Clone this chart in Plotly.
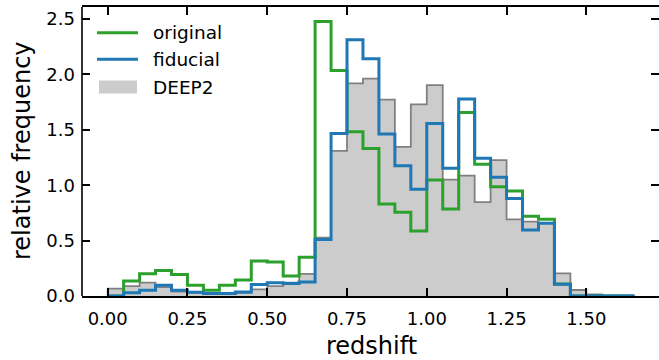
import plotly.graph_objects as go

# Histogram bins (redshift), width 0.05 from 0.00 to 1.65
bin_edges = [round(0.05 * i, 2) for i in range(34)]

# Relative frequency per bin
original = [0.0, 0.135, 0.20, 0.23, 0.195, 0.098, 0.052, 0.098, 0.145, 0.316,
            0.307, 0.18, 0.35, 2.478, 2.035, 1.483, 1.33, 0.83, 0.755, 0.587,
            1.047, 0.785, 1.655, 1.19, 0.987, 0.948, 0.72, 0.693, 0.108, 0.0,
            0.0, 0.0, 0.0]
fiducial = [0.0, 0.03, 0.052, 0.098, 0.052, 0.034, 0.022, 0.022, 0.036, 0.103,
            0.12, 0.112, 0.126, 0.51, 1.466, 2.313, 2.141, 1.462, 1.176, 0.963,
            1.556, 1.152, 1.777, 1.243, 1.071, 0.88, 0.596, 0.656, 0.106, 0.0,
            0.0, 0.0, 0.0]
deep2 = [0.066, 0.09, 0.12, 0.08, 0.04, 0.03, 0.017, 0.017, 0.028, 0.06,
         0.09, 0.12, 0.2, 0.526, 1.31, 1.918, 1.961, 1.772, 1.345, 1.73,
         1.903, 1.05, 1.086, 0.847, 1.226, 0.692, 0.671, 0.66, 0.205, 0.054,
         0.015, 0.005, 0.003]

x_ticks = [0.0, 0.25, 0.5, 0.75, 1.0, 1.25, 1.5]
y_ticks = [0.0, 0.5, 1.0, 1.5, 2.0, 2.5]

series_names = ["original", "fiducial", "DEEP2"]
GREEN = "#2ca02c"
BLUE = "#1f77b4"
FILL = "#cccccc"
EDGE = "#808080"
FONT = "DejaVu Sans"

W, H = 659, 360
L, R, T, B = 82, 0, 7, 64
PW, PH = W - L - R, H - T - B


def step_xy(edges, vals):
    """Outline of a step histogram, starting and ending on the baseline."""
    xs, ys = [edges[0]], [0.0]
    for i, v in enumerate(vals):
        xs += [edges[i], edges[i + 1]]
        ys += [v, v]
    xs.append(edges[-1])
    ys.append(0.0)
    return xs, ys


def px(p):
    return (p - L) / PW


def py(p):
    return (H - B - p) / PH


fig = go.Figure()

gx, gy = step_xy(bin_edges, deep2)
fig.add_trace(go.Scatter(x=gx, y=gy, mode="lines", fill="tozeroy",
                         fillcolor=FILL, line=dict(color=EDGE, width=1.8),
                         name=series_names[2], showlegend=False, hoverinfo="skip"))

ox, oy = step_xy(bin_edges, original)
fig.add_trace(go.Scatter(x=ox, y=oy, mode="lines",
                         line=dict(color=GREEN, width=3),
                         name=series_names[0], showlegend=False))

fx, fy = step_xy(bin_edges, fiducial)
fig.add_trace(go.Scatter(x=fx, y=fy, mode="lines",
                         line=dict(color=BLUE, width=3),
                         name=series_names[1], showlegend=False))

tick_font = dict(family=FONT, size=18, color="black")

fig.update_layout(
    width=W, height=H,
    margin=dict(l=L, r=R, t=T, b=B, pad=0),
    paper_bgcolor="white", plot_bgcolor="white",
    font=dict(family=FONT, color="black"),
    showlegend=False,
    xaxis=dict(range=[-0.0805, 1.7277], tickvals=x_ticks, tickformat=".2f",
               ticks="inside", ticklen=8, tickwidth=1.5, tickcolor="black",
               showline=True, linecolor="black", linewidth=1.6, mirror="ticks",
               showgrid=False, zeroline=False, tickfont=tick_font,
               ticklabelstandoff=6),
    yaxis=dict(range=[0, 2.608], tickvals=y_ticks, tickformat=".1f",
               ticks="inside", ticklen=8, tickwidth=1.5, tickcolor="black",
               showline=False, mirror="ticks",
               showgrid=False, zeroline=False, tickfont=tick_font,
               ticklabelstandoff=6),
)

# left spine
fig.add_shape(type="line", xref="paper", yref="paper", x0=0, x1=0, y0=0, y1=1,
              line=dict(color="black", width=1.6), layer="above")

# axis titles
fig.add_annotation(text="redshift", xref="paper", yref="paper",
                   x=px(371), y=py(346), showarrow=False,
                   font=dict(family=FONT, size=24, color="black"),
                   xanchor="center", yanchor="middle")
fig.add_annotation(text="relative frequency", xref="paper", yref="paper",
                   x=px(22), y=py(151), showarrow=False, textangle=-90,
                   font=dict(family=FONT, size=24, color="black"),
                   xanchor="center", yanchor="middle")

# legend
legend_rows = [(32.7, GREEN, "line"), (59.3, BLUE, "line"), (87.0, FILL, "patch")]
for (yy, col, kind), label in zip(legend_rows, series_names):
    if kind == "line":
        fig.add_shape(type="line", xref="paper", yref="paper",
                      x0=px(97), x1=px(138), y0=py(yy), y1=py(yy),
                      line=dict(color=col, width=3))
    else:
        fig.add_shape(type="rect", xref="paper", yref="paper",
                      x0=px(99), x1=px(137), y0=py(yy - 6.5), y1=py(yy + 6.5),
                      fillcolor=col, line=dict(width=0))
    fig.add_annotation(text=label, xref="paper", yref="paper",
                       x=px(151), y=py(yy), showarrow=False,
                       font=dict(family=FONT, size=18.5, color="black"),
                       xanchor="left", yanchor="middle")

fig.write_html("out.html")
